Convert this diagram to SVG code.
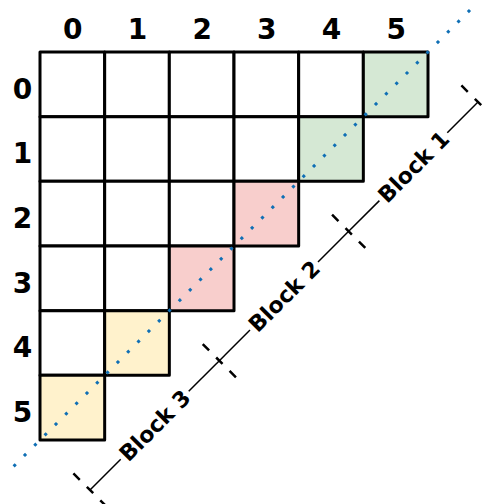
<svg xmlns="http://www.w3.org/2000/svg" width="487" height="504" viewBox="0 0 487 504">
<style>
.cell{stroke:#000;stroke-width:3;stroke-linejoin:round}
.w{fill:#fff}
.g{fill:#d5e8d4}
.r{fill:#f8cecc}
.y{fill:#fff2cc}
.lbl{font-family:"DejaVu Sans",sans-serif;font-weight:bold;font-size:28px;fill:#000;text-anchor:middle}
.blk{font-family:"DejaVu Sans",sans-serif;font-weight:bold;font-size:22px;fill:#000;text-anchor:middle}
.dim{stroke:#000;stroke-width:1.5;fill:none}
.ext{stroke:#000;stroke-width:2.5;fill:none;stroke-dasharray:9 10}
.diag{stroke:#0f6fb5;stroke-width:3;stroke-dasharray:3 11.6;fill:none}
</style>
<g id="grid">
<rect class="cell w" x="40" y="52" width="64.67" height="64.67"/>
<rect class="cell w" x="104.67" y="52" width="64.67" height="64.67"/>
<rect class="cell w" x="169.33" y="52" width="64.67" height="64.67"/>
<rect class="cell w" x="234" y="52" width="64.67" height="64.67"/>
<rect class="cell w" x="298.67" y="52" width="64.67" height="64.67"/>
<rect class="cell g" x="363.33" y="52" width="64.67" height="64.67"/>
<rect class="cell w" x="40" y="116.67" width="64.67" height="64.67"/>
<rect class="cell w" x="104.67" y="116.67" width="64.67" height="64.67"/>
<rect class="cell w" x="169.33" y="116.67" width="64.67" height="64.67"/>
<rect class="cell w" x="234" y="116.67" width="64.67" height="64.67"/>
<rect class="cell g" x="298.67" y="116.67" width="64.67" height="64.67"/>
<rect class="cell w" x="40" y="181.33" width="64.67" height="64.67"/>
<rect class="cell w" x="104.67" y="181.33" width="64.67" height="64.67"/>
<rect class="cell w" x="169.33" y="181.33" width="64.67" height="64.67"/>
<rect class="cell r" x="234" y="181.33" width="64.67" height="64.67"/>
<rect class="cell w" x="40" y="246" width="64.67" height="64.67"/>
<rect class="cell w" x="104.67" y="246" width="64.67" height="64.67"/>
<rect class="cell r" x="169.33" y="246" width="64.67" height="64.67"/>
<rect class="cell w" x="40" y="310.67" width="64.67" height="64.67"/>
<rect class="cell y" x="104.67" y="310.67" width="64.67" height="64.67"/>
<rect class="cell y" x="40" y="375.33" width="64.67" height="64.67"/>
</g>
<g id="col-labels">
<text class="lbl" x="72.8" y="39">0</text>
<text class="lbl" x="137.5" y="39">1</text>
<text class="lbl" x="202.2" y="39">2</text>
<text class="lbl" x="266.8" y="39">3</text>
<text class="lbl" x="331.5" y="39">4</text>
<text class="lbl" x="396.2" y="39">5</text>
</g>
<g id="row-labels">
<text class="lbl" x="22.5" y="98.5">0</text>
<text class="lbl" x="22.5" y="163.2">1</text>
<text class="lbl" x="22.5" y="227.8">2</text>
<text class="lbl" x="22.5" y="292.5">3</text>
<text class="lbl" x="22.5" y="357.2">4</text>
<text class="lbl" x="22.5" y="421.8">5</text>
</g>
<g id="connectors">
<line class="diag" x1="470" y1="10" x2="12" y2="468"/>
<line class="dim" x1="478" y1="102" x2="447.3" y2="132.7"/>
<line class="dim" x1="379.4" y1="200.6" x2="348.67" y2="231.33"/>
<line class="dim" x1="348.67" y1="231.33" x2="318" y2="262"/>
<line class="dim" x1="250" y1="330" x2="219.33" y2="360.67"/>
<line class="dim" x1="219.33" y1="360.67" x2="188.7" y2="391.3"/>
<line class="dim" x1="120.7" y1="459.3" x2="90" y2="490"/>
<line class="ext" x1="461.4" y1="85.4" x2="494.6" y2="118.6"/>
<line class="ext" x1="332.07" y1="214.73" x2="365.27" y2="247.93"/>
<line class="ext" x1="202.73" y1="344.07" x2="235.93" y2="377.27"/>
<line class="ext" x1="73.4" y1="473.4" x2="106.6" y2="506.6"/>
</g>
<g id="block1"><text class="blk" x="413.33" y="166.67" dy="8" transform="rotate(-45 413.33 166.67)">Block 1</text></g>
<g id="block2"><text class="blk" x="284" y="296" dy="8" transform="rotate(-45 284 296)">Block 2</text></g>
<g id="block3"><text class="blk" x="154.67" y="425.33" dy="8" transform="rotate(-45 154.67 425.33)">Block 3</text></g>
</svg>
